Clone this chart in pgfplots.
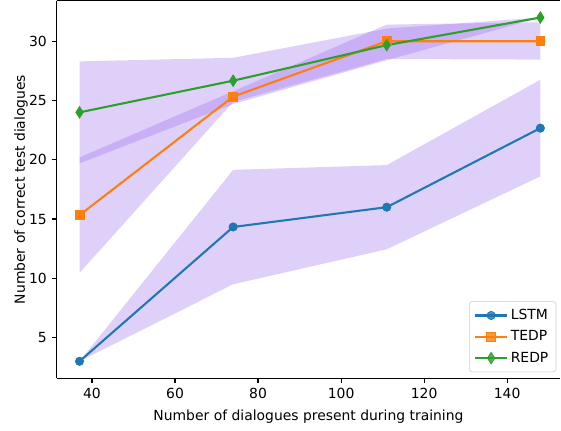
\documentclass[border=0pt]{standalone}
\usepackage{fontspec}
\setmainfont{DejaVu Sans}
\usepackage{pgfplots}
\pgfplotsset{compat=1.18}

\definecolor{c1}{HTML}{1F77B4}
\definecolor{c2}{HTML}{FF7F0E}
\definecolor{c3}{HTML}{2CA02C}
\definecolor{band}{RGB}{150,100,235}

\begin{document}
\begin{tikzpicture}
\begin{axis}[
    scale only axis,
    width=362.4pt, height=271.7pt,
    xmin=31.45, xmax=152.84,
    ymin=1.56, ymax=33.43,
    axis x line=box, axis y line*=left,
    xtick pos=bottom, ytick pos=left,
    tick align=outside,
    major tick length=3.5pt,
    every tick/.style={black, line width=0.8pt},
    axis line style={line width=0.8pt, black},
    xtick={40,60,...,140},
    ytick={5,10,...,30},
    /pgf/number format/assume math mode=true,
    tick label style={font=\fontsize{10}{12}\selectfont},
    label style={font=\fontsize{10}{12}\selectfont},
    xlabel={Number of dialogues present during training},
    ylabel={Number of correct test dialogues},
    ylabel style={yshift=-6pt},
    xlabel style={yshift=-1pt},
    legend cell align=left,
    legend style={at={(1,0)}, anchor=south east, xshift=-3pt, yshift=4.5pt,
        draw=black!20, rounded corners=2pt, fill=white, fill opacity=0.8,
        text opacity=1, font=\fontsize{10}{12}\selectfont,
        row sep=2.5pt, inner sep=3.5pt},
    legend image code/.code={\draw[mark repeat=2,mark phase=2,#1]
        plot coordinates {(0cm,0cm)(0.4cm,0cm)(0.8cm,0cm)};},
]
% bands (mean +- std)
\addplot[fill=band, fill opacity=0.3, draw=none, forget plot] coordinates {
    (37,3) (74,19.15) (111,19.55) (148,26.75)
    (148,18.6) (111,12.45) (74,9.5) (37,3)} -- cycle;
\addplot[fill=band, fill opacity=0.3, draw=none, forget plot] coordinates {
    (37,20.2) (74,25.78) (111,31.4) (148,31.6)
    (148,28.45) (111,28.5) (74,24.88) (37,10.46)} -- cycle;
\addplot[fill=band, fill opacity=0.3, draw=none, forget plot] coordinates {
    (37,28.3) (74,28.6) (111,31.07) (148,32)
    (148,32) (111,28.4) (74,24.7) (37,19.7)} -- cycle;

% means
\addplot[c1, line width=1.5pt, mark=*, mark size=3pt,
    mark options={line width=0.5pt}] coordinates {
    (37,3) (74,14.33) (111,16) (148,22.67)};
\addlegendentry{LSTM}
\addplot[c2, line width=1.5pt, mark=square*, mark size=3.2pt,
    mark options={line width=0.5pt}] coordinates {
    (37,15.33) (74,25.33) (111,30) (148,30)};
\addlegendentry{TEDP}
\addplot[c3, line width=1.5pt, mark=diamond*, mark size=4.2pt,
    mark options={line width=0.5pt, xscale=0.85}] coordinates {
    (37,24) (74,26.67) (111,29.67) (148,32)};
\addlegendentry{REDP}
\end{axis}
\path ([xshift=-7pt]current bounding box.west);
\path ([yshift=-2pt]current bounding box.south);
\end{tikzpicture}
\end{document}
